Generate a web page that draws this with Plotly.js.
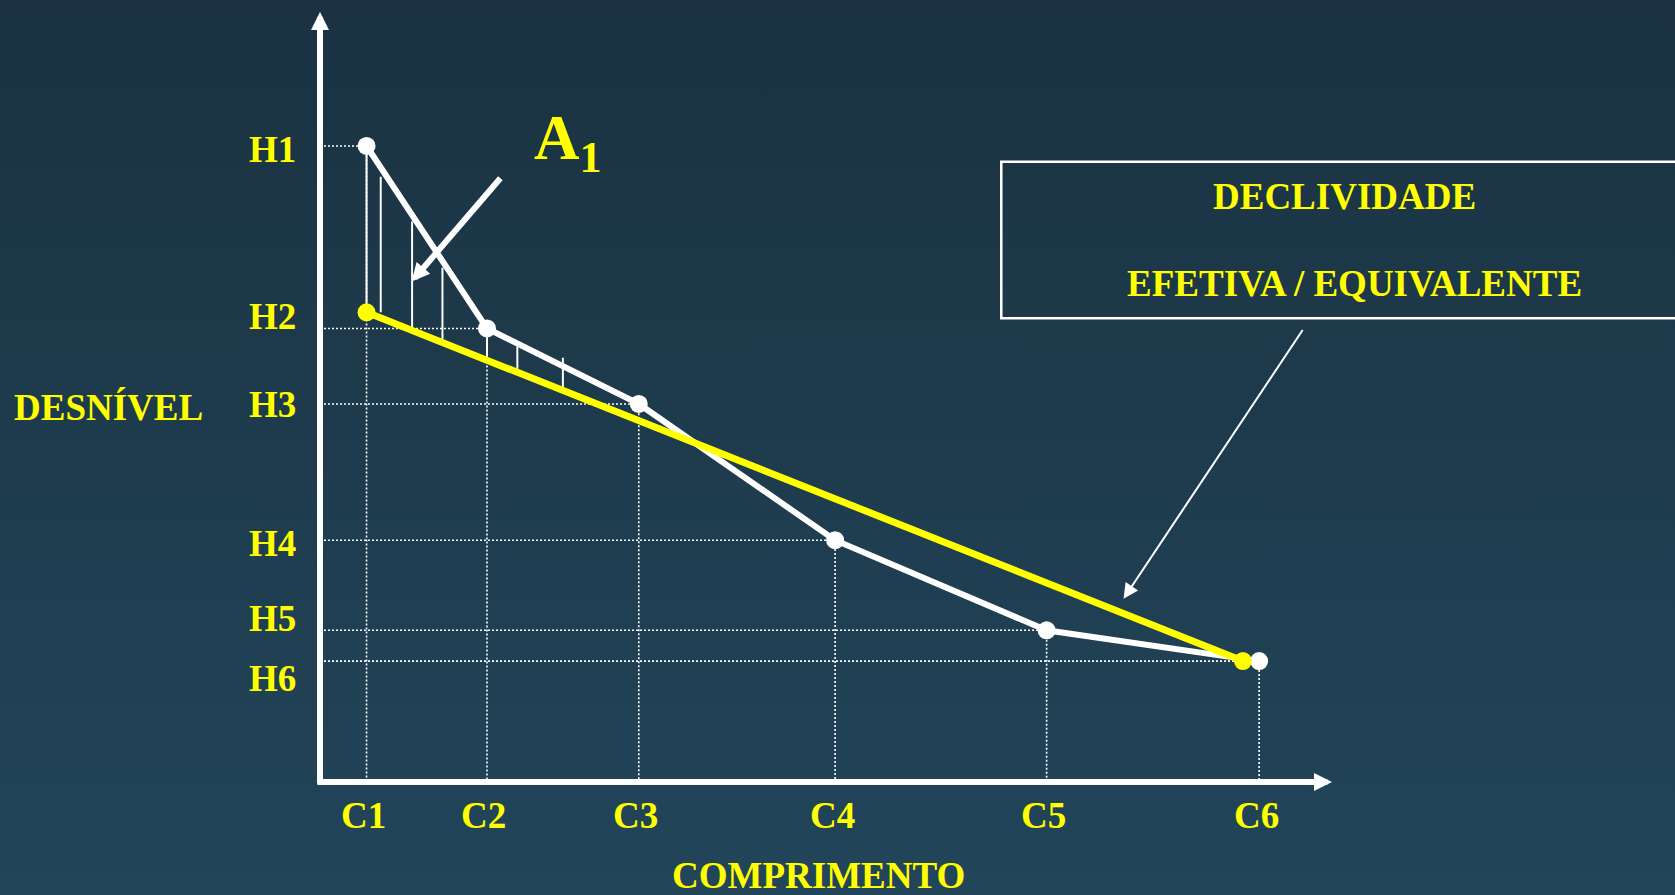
<!DOCTYPE html>
<html>
<head>
<meta charset="utf-8">
<script src="https://cdn.plot.ly/plotly-3.0.1.min.js"></script>
<style>
  html, body { margin: 0; padding: 0; }
  body { width: 1675px; height: 895px; background: linear-gradient(180deg, #1a3241 0%, #22455a 100%); overflow: hidden; }
  #chart { width: 1675px; height: 895px; }
</style>
</head>
<body>
<div id="chart"></div>
<script>
// ---- data (arbitrary units) ----
const cLabels = ["C1", "C2", "C3", "C4", "C5", "C6"];
const hLabels = ["H1", "H2", "H3", "H4", "H5", "H6"];
const comprimento = [4.6, 16.5, 31.5, 50.9, 71.8, 92.8];   // C1..C6
const desnivel   = [82.6, 58.9, 49.1, 31.4, 19.7, 15.7];   // H1..H6

// effective / equivalent slope line (yellow)
const equivX = [4.6, 91.2];
const equivY = [61.0, 15.7];

// hatch lines of area A1 (between the profile and the equivalent line)
const hatchX      = [4.6, 6.0, 9.1, 12.1, 16.5, 19.5, 24.0];
const hatchTop    = [82.6, 78.6, 72.8, 66.8, 57.8, 56.5, 55.1];
const hatchBottom = [61.0, 61.0, 59.0, 57.0, 55.0, 53.1, 51.1];

// label offsets (pixels) of the H labels relative to their levels
const hLabelShift = [-4, 12, -1, -3, 12, -17];

// ---- styling ----
const YEL = "#ffff00";
const WHITE = "#ffffff";
const FONT = "Liberation Serif, Times New Roman, serif";
const FS = 37;

// dotted reference lines
const gx = [], gy = [];
comprimento.forEach((c, i) => { gx.push(0, c, c, null); gy.push(desnivel[i], desnivel[i], 0, null); });

const hx = [], hy = [];
hatchX.forEach((x, i) => { hx.push(x, x, null); hy.push(hatchTop[i], hatchBottom[i], null); });

const traces = [
  { x: gx, y: gy, mode: "lines", line: { color: WHITE, width: 1.6, dash: "2px,2px" }, hoverinfo: "skip", cliponaxis: false },
  { x: hx, y: hy, mode: "lines", line: { color: WHITE, width: 2 }, hoverinfo: "skip", cliponaxis: false },
  { x: comprimento, y: desnivel, mode: "lines+markers", line: { color: WHITE, width: 6 },
    marker: { color: WHITE, size: 18 }, cliponaxis: false },
  { x: equivX, y: equivY, mode: "lines+markers", line: { color: YEL, width: 7 },
    marker: { color: YEL, size: 18 }, cliponaxis: false }
];

const ann = [];
// axes drawn as arrows
ann.push({ x: 0, y: 100, ax: 0, ay: -0.4, xref: "x", yref: "y", axref: "x", ayref: "y",
  text: "", showarrow: true, arrowhead: 2, arrowsize: 0.6, arrowwidth: 6, arrowcolor: WHITE });
ann.push({ x: 100, y: 0, ax: -0.4, ay: 0, xref: "x", yref: "y", axref: "x", ayref: "y",
  text: "", showarrow: true, arrowhead: 2, arrowsize: 0.6, arrowwidth: 6, arrowcolor: WHITE });

// C labels
cLabels.forEach((t, i) => ann.push({ x: comprimento[i], y: 0, xref: "x", yref: "paper", yshift: -33, xshift: -3,
  text: "<b>" + t + "</b>", showarrow: false, xanchor: "center", yanchor: "middle",
  font: { family: FONT, size: FS, color: YEL } }));
// H labels
hLabels.forEach((t, i) => ann.push({ x: -0.047, y: desnivel[i], xref: "paper", yref: "y", yshift: hLabelShift[i],
  text: "<b>" + t + "</b>", showarrow: false, xanchor: "center", yanchor: "middle",
  font: { family: FONT, size: FS, color: YEL } }));

// axis titles
ann.push({ x: -0.2085, y: 0.487, xref: "paper", yref: "paper", text: "<b>DESNÍVEL</b>", showarrow: false,
  xanchor: "center", yanchor: "middle", font: { family: FONT, size: FS, color: YEL } });
ann.push({ x: 0.493, y: -0.121, xref: "paper", yref: "paper", text: "<b>COMPRIMENTO</b>", showarrow: false,
  xanchor: "center", yanchor: "middle", font: { family: FONT, size: FS, color: YEL } });

// A1 label and its arrow
ann.push({ x: 20.9, y: 83.0, xref: "x", yref: "y", text: "<b>A<sub>1</sub></b>", showarrow: false,
  xanchor: "left", yanchor: "middle", font: { family: FONT, size: 63, color: YEL } });
ann.push({ x: 9.06, y: 65.0, ax: 17.95, ay: 78.6, xref: "x", yref: "y", axref: "x", ayref: "y",
  text: "", showarrow: true, arrowhead: 2, arrowsize: 0.6, arrowwidth: 6, arrowcolor: WHITE });

// box text
ann.push({ x: 1.0128, y: 0.761, xref: "paper", yref: "paper", text: "<b>DECLIVIDADE</b>", showarrow: false,
  xanchor: "center", yanchor: "middle", font: { family: FONT, size: FS, color: YEL } });
ann.push({ x: 1.0227, y: 0.6468, xref: "paper", yref: "paper", text: "<b>EFETIVA / EQUIVALENTE</b>", showarrow: false,
  xanchor: "center", yanchor: "middle", font: { family: FONT, size: FS, color: YEL } });
// thin arrow from box to yellow line
ann.push({ x: 79.4, y: 23.8, ax: 97.2, ay: 58.9, xref: "x", yref: "y", axref: "x", ayref: "y",
  text: "", showarrow: true, arrowhead: 2, arrowsize: 1.5, arrowwidth: 2, arrowcolor: WHITE });

const layout = {
  width: 1675, height: 895,
  margin: { l: 320, r: 343, t: 12, b: 113, pad: 0 },
  paper_bgcolor: "rgba(0,0,0,0)", plot_bgcolor: "rgba(0,0,0,0)",
  showlegend: false,
  xaxis: { range: [0, 100], showgrid: false, zeroline: false, showline: false, showticklabels: false, ticks: "" },
  yaxis: { range: [0, 100], showgrid: false, zeroline: false, showline: false, showticklabels: false, ticks: "" },
  annotations: ann,
  shapes: [
    { type: "rect", xref: "paper", yref: "paper", x0: 0.6732, x1: 1.4, y0: 0.6022, y1: 0.8056,
      line: { color: WHITE, width: 2.5 }, fillcolor: "rgba(0,0,0,0)" }
  ]
};

Plotly.newPlot("chart", traces, layout, { displayModeBar: false, staticPlot: true });
</script>
</body>
</html>
